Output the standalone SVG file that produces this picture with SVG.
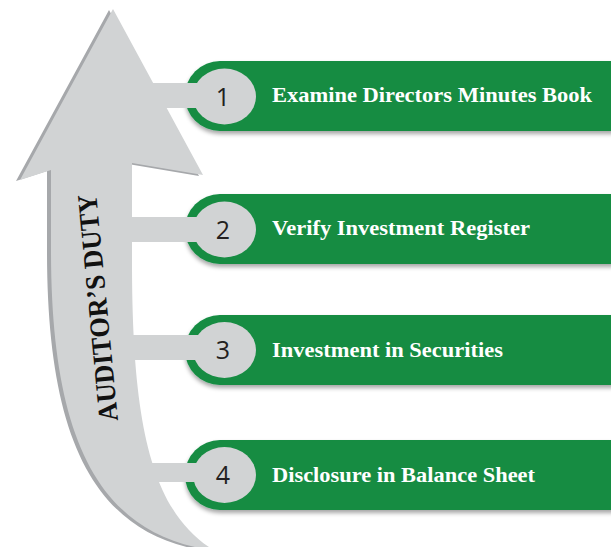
<svg xmlns="http://www.w3.org/2000/svg" width="611" height="547" viewBox="0 0 611 547">
  <defs>
    <filter id="sh" x="-10%" y="-20%" width="120%" height="150%">
      <feDropShadow dx="0" dy="3" stdDeviation="2" flood-color="#000" flood-opacity="0.35"/>
    </filter>
    <path id="arrowShape" d="M113,9 L203,175 L132,163 L132,260 C132,420 150,510 212,549 L205,549 C94,530 51,430 51,250 L51,170 L20,180 Z"/>
  </defs>
  <style>
    .pill { fill: #138c43; filter: url(#sh); }
    .badge { fill: #d1d3d4; }
    .bar { fill: #d1d3d4; }
    .num { font-family: "Open Sans", "Liberation Sans", sans-serif; font-size: 25px; fill: #231f20; text-anchor: middle; }
    .lbl { font-family: "Liberation Serif", serif; font-weight: bold; font-size: 22px; fill: #ffffff; }
    .title { font-family: "Liberation Serif", serif; font-weight: bold; font-size: 28px; fill: #111111; }
  </style>
  <rect width="611" height="547" fill="#ffffff"/>

  <g id="arrow">
    <use href="#arrowShape" fill="#a6a8ab" transform="translate(-4,1)"/>
    <use href="#arrowShape" fill="#d1d3d4"/>
    <text class="title" transform="translate(107,307) rotate(-95.5)" text-anchor="middle" textLength="228" lengthAdjust="spacingAndGlyphs">AUDITOR’S DUTY</text>
  </g>

  <g id="node1">
    <rect class="pill" x="185" y="61" width="460" height="70" rx="35"/>
    <ellipse class="badge" cx="224.5" cy="96.5" rx="31.5" ry="28"/>
    <text class="num" x="223" y="105.5">1</text>
    <text class="lbl" x="272" y="102" textLength="320" lengthAdjust="spacingAndGlyphs">Examine Directors Minutes Book</text>
  </g>
  <g id="node2">
    <rect class="pill" x="185" y="194" width="460" height="70" rx="35"/>
    <ellipse class="badge" cx="224.5" cy="229.5" rx="31.5" ry="28"/>
    <text class="num" x="223" y="238.5">2</text>
    <text class="lbl" x="272" y="235" textLength="258" lengthAdjust="spacingAndGlyphs">Verify Investment Register</text>
  </g>
  <g id="node3">
    <rect class="pill" x="185" y="315" width="460" height="70" rx="35"/>
    <ellipse class="badge" cx="224.5" cy="350" rx="31.5" ry="28"/>
    <text class="num" x="223" y="359">3</text>
    <text class="lbl" x="272" y="357" textLength="231" lengthAdjust="spacingAndGlyphs">Investment in Securities</text>
  </g>
  <g id="node4">
    <rect class="pill" x="185" y="440" width="460" height="70" rx="35"/>
    <ellipse class="badge" cx="224.5" cy="475" rx="31.5" ry="28"/>
    <text class="num" x="223" y="484">4</text>
    <text class="lbl" x="272" y="482" textLength="263" lengthAdjust="spacingAndGlyphs">Disclosure in Balance Sheet</text>
  </g>

  <g id="connectors">
    <rect class="bar" x="140" y="83" width="70" height="25"/>
    <rect class="bar" x="125" y="217" width="85" height="25"/>
    <rect class="bar" x="125" y="335" width="85" height="25"/>
    <rect class="bar" x="140" y="463" width="70" height="19"/>
  </g>
</svg>
